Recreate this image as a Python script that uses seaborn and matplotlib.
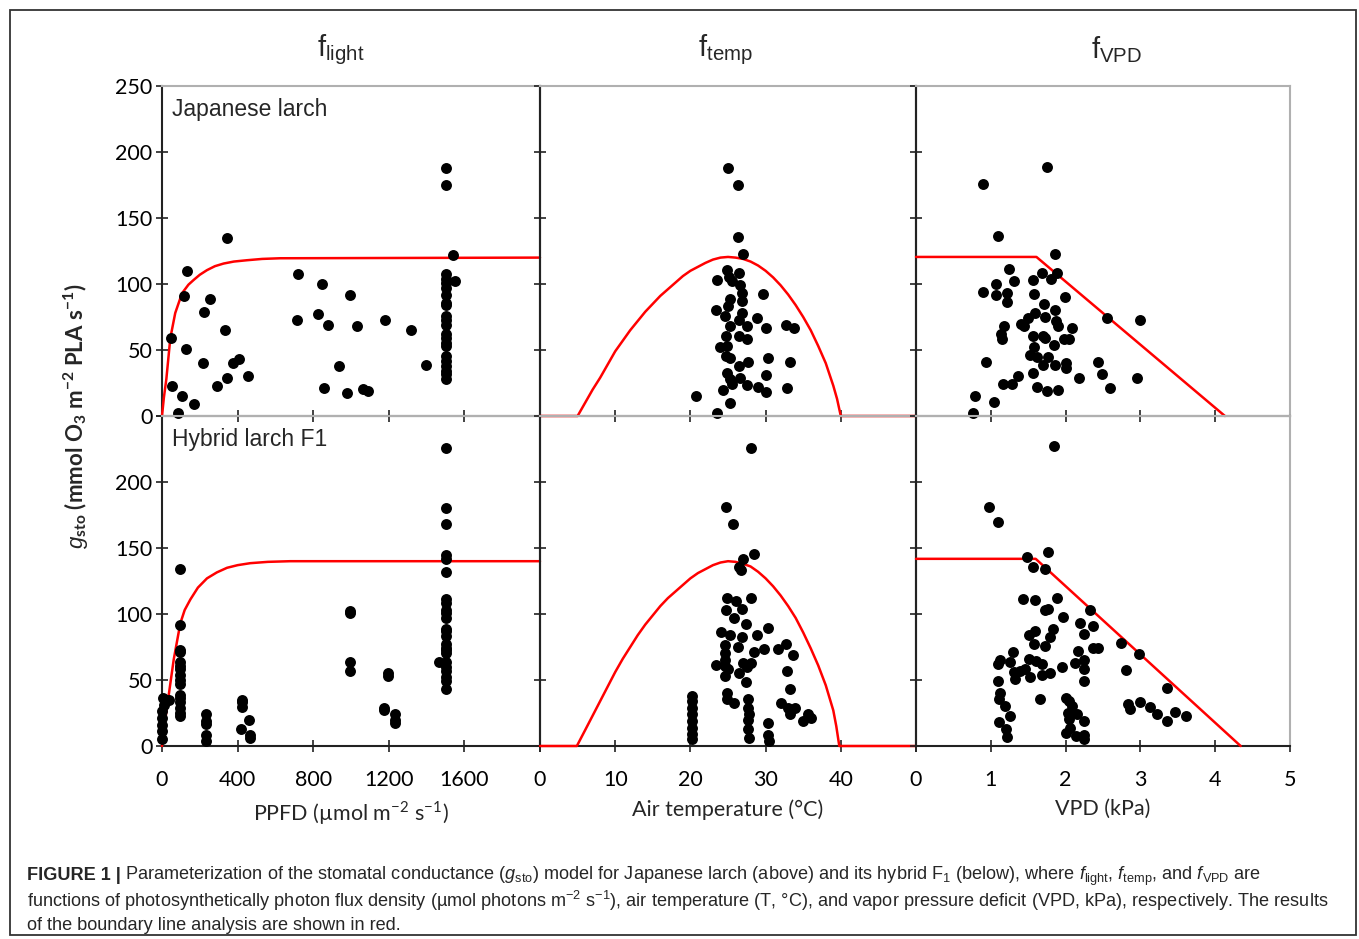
import matplotlib
matplotlib.use("Agg")
import matplotlib.pyplot as plt
import seaborn as sns
from matplotlib.patches import Rectangle

# ---------------- data ----------------
# Japanese larch
jl_light_x = [47, 51, 83, 104, 115, 129, 134, 171, 220, 218, 252, 291, 335, 344, 344, 375, 409, 453,
              712, 722, 825, 846, 855, 877, 935, 978, 995, 1031, 1062, 1092, 1180, 1318, 1397,
              1500, 1500, 1500, 1500, 1500, 1500, 1500, 1500, 1500, 1500, 1500, 1500, 1500, 1500,
              1500, 1500, 1500, 1500, 1500, 1500, 1500, 1500, 1542, 1551]
jl_light_y = [59, 23, 2, 15, 91, 50.5, 110, 9, 79, 40.5, 89, 23, 65.5, 135, 28.5, 40.5, 43.5, 30.5,
              73, 107.5, 77, 100, 21, 69, 38, 17.5, 92, 68, 20.5, 19, 73, 65.5, 39,
              188, 175, 107.5, 104, 100.5, 97, 92, 85.5, 84, 75.5, 73, 69, 62, 59,
              55.5, 53, 45.5, 42, 38, 34, 32, 28, 122, 102.5]

jl_temp_x = [25.0, 26.3, 26.3, 27.0, 24.9, 25.1, 26.4, 23.6, 25.5, 26.6, 26.8, 29.7, 25.2, 26.8,
             25.0, 23.4, 24.6, 26.8, 28.8, 25.2, 26.4, 27.5, 30.1, 32.7, 33.8, 24.7, 26.4, 27.5,
             24.9, 23.9, 24.8, 25.2, 30.3, 27.7, 33.2, 26.4, 24.9, 30.1, 25.2, 26.6, 27.5, 25.5,
             29.0, 32.8, 30.1, 24.4, 20.7, 25.3, 23.5]
jl_temp_y = [188, 175, 135.5, 123, 110.5, 105.5, 108, 103, 102, 99, 93, 92.5, 89, 87,
             83, 80, 75.5, 78, 74, 68, 73, 68, 67, 69, 67, 60.5, 60.5, 58.5,
             53, 52, 45.5, 44, 44, 41, 41, 38, 32.5, 31, 28, 29, 23.5, 24,
             22, 21, 18.5, 20, 15.5, 10, 2]

jl_vpd_x = [1.75, 0.90, 1.10, 1.86, 1.24, 1.68, 1.89, 1.80, 1.56, 1.31, 1.07, 0.90, 1.07, 1.21,
            1.58, 1.99, 1.22, 1.71, 1.86, 1.59, 1.50, 1.73, 2.55, 3.00, 1.87, 1.90, 1.18, 1.40,
            1.44, 2.08, 1.14, 1.56, 1.70, 1.72, 1.15, 1.98, 2.04, 1.84, 1.58, 0.94, 1.53, 1.62,
            1.76, 1.70, 1.86, 2.00, 2.43, 2.00, 1.56, 1.37, 2.48, 1.16, 1.28, 2.18, 2.95, 1.62,
            1.75, 1.90, 2.59, 0.79, 1.04, 0.76]
jl_vpd_y = [188.5, 175.5, 136, 123, 111, 108, 108.5, 104, 103, 102, 100, 94, 92, 93,
            92.5, 90.5, 86, 85, 80, 78, 74, 75, 74, 73, 72, 68, 68.5, 70,
            68, 67, 62, 60.5, 60.5, 59, 58, 58.5, 58.5, 54, 52, 41, 46, 45,
            45, 39, 39, 40, 41, 36, 32.5, 30, 32, 24, 24, 29, 29, 22,
            19, 20, 21, 15.5, 10.5, 2]

# Hybrid larch F1
hy_light_x = [0, 0, 0, 0, 0, 9, 4, 35, 23,
              93, 93, 93, 93, 93, 93, 93, 93, 93, 93, 93, 93, 93, 93, 93, 93,
              234, 234, 234, 234, 234,
              423, 423, 423, 419, 458, 463, 467,
              995, 995, 995, 995,
              1198, 1198, 1172, 1177, 1233, 1233, 1233,
              1501, 1501, 1501, 1501, 1501, 1501, 1501, 1501, 1501, 1501, 1501, 1501, 1501,
              1501, 1501, 1501, 1501, 1501, 1501, 1501, 1501, 1501, 1501, 1501, 1468]
hy_light_y = [5.5, 11, 16, 21, 26.5, 30.7, 36, 35, 35,
              134, 92, 73, 71, 64, 60.5, 58, 54, 50, 47, 39, 36.5, 33, 29, 25, 22.7,
              24, 19, 16.5, 8, 4,
              35, 33, 29.5, 12.6, 20, 8, 6,
              102, 101, 64, 57,
              55, 53, 29, 27, 24, 20, 17.6,
              226, 180, 168, 145, 142, 132, 111, 108, 103, 101, 97, 89, 87,
              83, 77, 74, 73, 70.5, 64, 60, 57, 52, 49, 43, 64]

hy_temp_x = [28.1, 24.7, 25.6, 28.5, 27.0, 26.4, 26.7, 24.9, 26.0, 28.1, 24.7, 26.9, 25.8, 27.4,
             30.3, 24.1, 25.2, 26.9, 28.8, 24.6, 26.3, 29.8, 31.6, 32.7, 28.5, 33.6, 24.6, 24.6,
             23.4, 24.6, 25.0, 27.0, 28.1, 27.5, 26.4, 24.6, 32.8, 27.4, 33.2, 24.9, 24.9, 25.8,
             27.6, 27.6, 27.8, 27.6, 27.6, 27.8, 32.0, 33.0, 33.9, 33.2, 35.6, 36.0, 35.0, 30.3,
             30.3, 30.4, 20.2, 20.2, 20.2, 20.2, 20.2, 20.2, 20.2, 20.2]
hy_temp_y = [226, 181, 168, 145.5, 142, 135.5, 133, 112, 110, 112, 103, 103.5, 97, 92.7,
             89.4, 86.4, 84.4, 82.4, 84.4, 76.8, 75, 73.5, 73.5, 77.6, 71, 69.3, 70.5, 65.5,
             61, 60.5, 58, 63, 63, 60, 55.4, 53, 57, 48.4, 43.3, 39.8, 35.8, 32.2,
             35.8, 29, 24, 20, 12.6, 6.3, 32.2, 29, 29, 24, 24, 21.4, 19, 17.6,
             8, 3.8, 37.8, 34, 29, 24, 19, 13.9, 8.8, 5.5]

hy_vpd_x = [1.85, 0.98, 1.09, 1.77, 1.48, 1.56, 1.72, 1.43, 1.59, 1.89, 1.73, 1.76, 2.33, 1.96,
            2.19, 2.37, 1.83, 1.59, 1.51, 2.25, 1.79, 1.58, 2.74, 2.36, 2.43, 1.73, 2.98, 2.16,
            1.30, 1.12, 1.26, 1.10, 1.51, 1.60, 1.68, 2.25, 2.12, 1.95, 2.24, 2.81, 1.31, 1.39,
            1.46, 1.53, 1.69, 1.79, 1.32, 2.25, 1.10, 3.36, 1.12, 1.11, 1.66, 2.00, 2.05, 2.08,
            2.83, 2.86, 2.99, 3.13, 3.22, 3.46, 3.61, 3.35, 1.19, 1.25, 1.11, 1.20, 1.22, 2.03,
            2.15, 2.25, 2.05, 2.06, 2.00, 2.14, 2.25, 2.25]
hy_vpd_y = [227, 181, 169.5, 146.6, 143, 135.5, 134, 111.6, 110.8, 112, 103, 104, 103, 97.7,
            93.2, 90.7, 88.7, 87, 84.4, 84.9, 82.4, 77.6, 78, 74.3, 74.3, 75.6, 70, 72.3,
            71, 65.5, 63.5, 62.5, 66, 64.2, 62.2, 65.5, 63, 60, 58, 57.4, 56, 56.7,
            58, 52, 54, 55.4, 50.4, 49.6, 49, 44, 40.3, 35.3, 35.3, 36.5, 34, 30.2,
            31.5, 28.2, 33.2, 29.7, 24, 25.7, 22.7, 19, 30.2, 22.7, 18, 12.6, 7, 25.2,
            24, 19, 20.7, 13.9, 9.6, 7.6, 8, 5.5]

# boundary lines (red)
jl_light_line_x = [0, 10, 23, 44, 70, 106, 140, 167, 200, 238, 280, 326, 380, 449, 530, 625, 2000]
jl_light_line_y = [0, 14, 28, 59, 78, 93, 99.5, 103, 107, 110.5, 113.5, 115.5, 117, 118, 119, 119.5, 120]
jl_temp_line_x = [0, 5, 6, 7, 8, 9, 10, 11, 12, 13, 14, 15, 16, 17, 18, 19, 20, 21, 22, 23, 24, 25,
                  26, 27, 28, 29, 30, 31, 32, 33, 34, 35, 36, 37, 38, 39, 39.5, 40, 50]
jl_temp_line_y = [0, 0, 10, 20, 29, 39, 49, 57, 65, 72, 79, 85, 91, 96, 101, 106, 110, 113, 116,
                  118.5, 120, 120.5, 120, 119, 117, 114, 110, 105, 99, 92, 84, 75, 65, 53, 40,
                  23, 13, 0, 0]
jl_vpd_line_x = [0, 1.61, 4.13]
jl_vpd_line_y = [120.5, 120.5, 0]
hy_light_line_x = [0, 15, 35, 62, 97, 120, 150, 190, 238, 290, 344, 400, 467, 560, 678, 2000]
hy_light_line_y = [0, 18, 38, 65.5, 93, 103, 111, 120, 127, 131.5, 135, 137, 138.5, 139.5, 140, 140]
hy_temp_line_x = [0, 4.9, 6, 7, 8, 9, 10, 11, 12, 13, 14, 15, 16, 17, 18, 19, 20, 21, 22, 23, 24,
                  25, 26, 27, 28, 29, 30, 31, 32, 33, 34, 35, 36, 37, 38, 39, 39.4, 39.8, 50]
hy_temp_line_y = [0, 0, 12, 23, 34, 45, 56, 66, 75, 84, 92, 99, 106, 112, 117, 122, 127, 131,
                  134, 137, 139, 140, 139.5, 138, 136, 132, 127, 121, 114, 106, 97, 86, 74, 61,
                  46, 27, 15, 0, 0]
hy_vpd_line_x = [0, 1.60, 4.34]
hy_vpd_line_y = [141.8, 141.8, 0]

col_titles = ["light", "temp", "VPD"]
row_labels = ["Japanese larch", "Hybrid larch F1"]
x_labels = ["PPFD (µmol m$^{\\mathregular{-2}}$ s$^{\\mathregular{-1}}$)",
            "Air temperature (°C)", "VPD (kPa)"]
x_ticks = [[0, 400, 800, 1200, 1600, 2000], [0, 10, 20, 30, 40, 50], [0, 1, 2, 3, 4, 5]]
x_ticklabels = [["0", "400", "800", "1200", "1600", ""],
                ["0", "10", "20", "30", "40", ""],
                ["0", "1", "2", "3", "4", "5"]]
x_lims = [(0, 2000), (0, 50), (0, 5)]
y_ticks = [0, 50, 100, 150, 200, 250]
y_ticklabels_top = ["0", "50", "100", "150", "200", "250"]
y_ticklabels_bottom = ["0", "50", "100", "150", "200", ""]

# ---------------- figure ----------------
sns.set_style("ticks")
plt.rcParams["font.family"] = ["Lato", "DejaVu Sans"]
plt.rcParams["mathtext.fontset"] = "custom"
plt.rcParams["mathtext.rm"] = "Liberation Sans"
plt.rcParams["mathtext.it"] = "Liberation Sans:italic"
plt.rcParams["mathtext.bf"] = "Liberation Sans:bold"

W, H = 1359, 939
fig = plt.figure(figsize=(W / 100, H / 100), dpi=100)


def fx(px):
    return px / W


def fy(py):
    return 1 - py / H


col_edges = [(162, 540), (540, 916), (916, 1290)]
row_edges = [(86, 416), (416, 746)]
title_centers = [341, 725, 1117]

data = [
    [(jl_light_x, jl_light_y, jl_light_line_x, jl_light_line_y),
     (jl_temp_x, jl_temp_y, jl_temp_line_x, jl_temp_line_y),
     (jl_vpd_x, jl_vpd_y, jl_vpd_line_x, jl_vpd_line_y)],
    [(hy_light_x, hy_light_y, hy_light_line_x, hy_light_line_y),
     (hy_temp_x, hy_temp_y, hy_temp_line_x, hy_temp_line_y),
     (hy_vpd_x, hy_vpd_y, hy_vpd_line_x, hy_vpd_line_y)],
]

dark = "#222222"
gray = "#b0b0b0"

for r, (top, bot) in enumerate(row_edges):
    for c, (left, right) in enumerate(col_edges):
        ax = fig.add_axes([fx(left), fy(bot), fx(right - left), (bot - top) / H])
        sx, sy, lx, ly = data[r][c]
        sns.lineplot(x=lx, y=ly, ax=ax, color="red", linewidth=1.8, sort=False,
                     estimator=None, zorder=5, clip_on=False)
        sns.scatterplot(x=sx, y=sy, ax=ax, color="black", s=62, linewidth=0,
                        zorder=6, clip_on=False)
        ax.set_xlim(*x_lims[c])
        ax.set_ylim(0, 250)
        ax.set_xticks(x_ticks[c])
        ax.set_yticks(y_ticks)
        if r == 1:
            ax.set_xticklabels(x_ticklabels[c], fontsize=15.5)
            ax.set_xlabel(x_labels[c], fontsize=15.5, labelpad=7)
        else:
            ax.set_xticklabels([])
            ax.set_xlabel("")
        if c == 0:
            ax.set_yticklabels(y_ticklabels_top if r == 0 else y_ticklabels_bottom, fontsize=15.5)
        else:
            ax.set_yticklabels([])
        ax.set_ylabel("")
        ax.tick_params(axis="both", direction="inout", length=8, width=1.2, colors=dark,
                       labelcolor="black")
        ax.tick_params(axis="x", pad=13)
        ax.tick_params(axis="y", pad=3)
        for side in ["left", "bottom"]:
            ax.spines[side].set_color(dark)
            ax.spines[side].set_linewidth(1.5)
        ax.spines["top"].set_visible(True)
        ax.spines["right"].set_visible(True)
        ax.spines["top"].set_color(gray)
        ax.spines["top"].set_linewidth(1.5)
        ax.spines["right"].set_color(gray if c == 2 else dark)
        ax.spines["right"].set_linewidth(1.5)
        ax.set_facecolor("none")
        ax.legend_ = None
        if c == 0:
            ax.text(0.027, 0.93, row_labels[r], transform=ax.transAxes, fontsize=16.5,
                    family=["Liberation Sans", "DejaVu Sans"], va="center", ha="left")
        if r == 0:
            fig.text(fx(title_centers[c]), fy(50), "f$_{\\mathregular{%s}}$" % col_titles[c],
                     fontsize=21, family=["Liberation Sans", "DejaVu Sans"],
                     ha="center", va="center")

# shared y label
fig.text(fx(76), fy(416),
         "$\\mathit{g}_{\\mathregular{sto}}$ (mmol O$_{\\mathregular{3}}$ m$^{\\mathregular{-2}}$ PLA s$^{\\mathregular{-1}}$)",
         rotation=90, ha="center", va="center", fontsize=16, fontweight="bold")

# outer frame
fig.patches.append(Rectangle((fx(10), fy(935)), fx(1346), (935 - 10) / H,
                             transform=fig.transFigure, fill=False,
                             edgecolor="#333333", linewidth=1.3))

# caption
cap_font = ["Liberation Sans Narrow", "Liberation Sans", "DejaVu Sans"]
cap_size = 13.1
fig.text(fx(27), fy(876), "FIGURE 1 |", fontsize=cap_size, fontweight="bold",
         family=cap_font, va="center", ha="left")
fig.text(fx(125), fy(876),
         "Parameterization of the stomatal conductance ($\\mathit{g}_{\\mathregular{sto}}$) model for "
         "Japanese larch (above) and its hybrid F$_{\\mathregular{1}}$ (below), where "
         "$\\mathit{f}_{\\mathregular{light}}$, $\\mathit{f}_{\\mathregular{temp}}$, and "
         "$\\mathit{f}_{\\mathregular{VPD}}$ are",
         fontsize=cap_size, family=cap_font, va="center", ha="left")
fig.text(fx(27), fy(901),
         "functions of photosynthetically photon flux density (µmol photons m$^{\\mathregular{-2}}$ "
         "s$^{\\mathregular{-1}}$), air temperature (T, °C), and vapor pressure deficit (VPD, kPa), "
         "respectively. The results",
         fontsize=cap_size, family=cap_font, va="center", ha="left")
fig.text(fx(27), fy(925), "of the boundary line analysis are shown in red.",
         fontsize=cap_size, family=cap_font, va="center", ha="left")

fig.savefig("out.png", dpi=100)
